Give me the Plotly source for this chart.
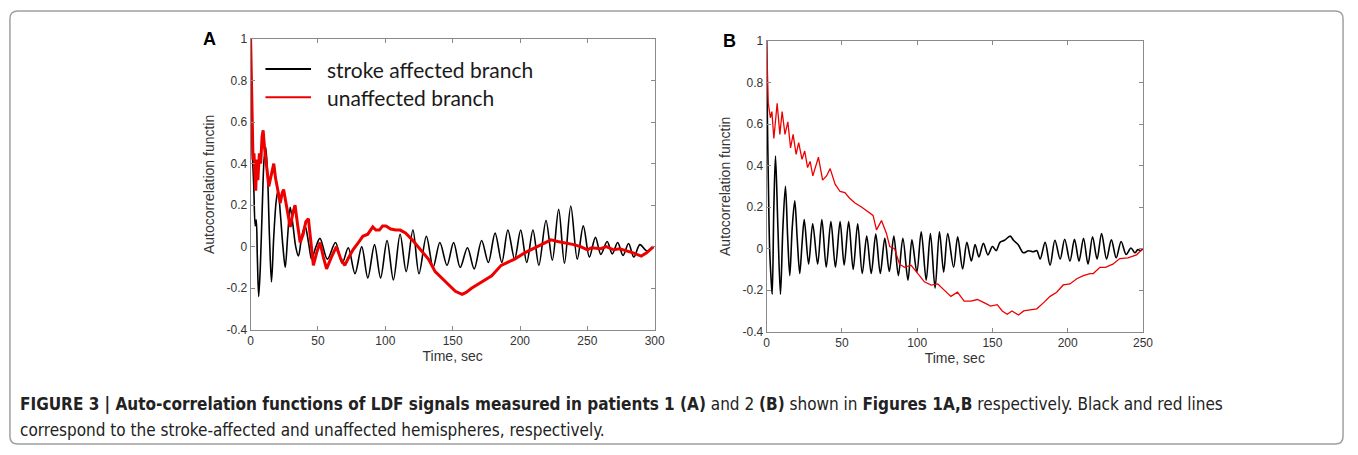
import plotly.graph_objects as go

W, H = 1358, 455

# ---------------- Panel A data ----------------
a_black_t = [0, 0.6, 1.3, 2.3, 3.4, 4.2, 5.0, 6.0, 7.2, 8.7, 10.0, 11.2, 12.5, 14.0, 15.5, 17.2, 19.0, 20.4,
             22.2, 24.0, 25.7, 27.6, 29.4, 31.5, 33.5, 35.5, 38.0, 40.4, 43.0, 45.3, 48.5, 51.5, 57.0, 63.0,
             68.0, 72.5, 77.5, 82.5, 87.0, 92.0, 96.5, 101.3, 106.0, 111.0, 115.5, 120.5, 125.0, 130.5,
             135.5, 140.5, 145.8, 150.7, 155.6, 161.0, 166.0, 171.5, 176.5, 181.5, 186.5, 191.0, 196.0,
             200.5, 205.0, 209.6, 214.0, 219.3, 224.0, 228.7, 233.0, 237.7, 242.5, 247.0, 251.5, 256.0,
             260.0, 264.7, 268.5, 272.5, 276.5, 280.6, 284.5, 289.0, 294.0, 299.0]
a_black_v = [1.0, 0.62, 0.45, 0.30, 0.10, 0.13, -0.05, -0.24, -0.10, 0.20, 0.42, 0.48, 0.36, 0.05, -0.17, 0.05,
             0.22, 0.27, 0.15, 0.0, -0.10, 0.06, 0.19, 0.10, 0.0, -0.045, 0.05, 0.10, 0.02, -0.06, 0.0, 0.04,
             -0.06, 0.02, -0.08, -0.005, -0.13, 0.0, -0.15, 0.01, -0.15, 0.03, -0.16, 0.06, -0.12, 0.08,
             -0.13, 0.05, -0.10, 0.02, -0.09, 0.02, -0.10, -0.005, -0.107, 0.03, -0.076, 0.065, -0.076,
             0.08, -0.06, 0.08, -0.076, 0.08, -0.09, 0.126, -0.065, 0.18, -0.08, 0.196, -0.06, 0.10, -0.05,
             0.045, -0.037, 0.025, -0.035, 0.02, -0.042, 0.015, -0.05, 0.01, -0.02, -0.003]

a_red_t = [0, 0.5, 1.2, 1.8, 2.5, 3.2, 3.8, 4.6, 5.4, 6.5, 7.5, 8.5, 9.3, 10.3, 11.5, 12.5, 13.5, 15.0, 16.3,
           17.2, 18.5, 20.0, 22.0, 23.5, 24.5, 26.0, 27.8, 29.4, 31.3, 33.0, 35.0, 36.8, 39.0, 41.0, 42.9,
           44.8, 46.6, 49.0, 51.5, 54.0, 56.4, 60.0, 63.7, 67.0, 69.9, 73.0, 76.0, 80.0, 83.3, 87.0, 90.7,
           93.0, 95.6, 98.0, 100.5, 104.0, 107.8, 111.0, 115.0, 120.0, 126.0, 132.0, 137.0, 144.6, 152.0,
           157.0, 160.0, 164.0, 171.5, 179.0, 186.0, 196.0, 203.4, 213.0, 223.0, 228.0, 232.8, 236.0,
           240.0, 245.0, 250.0, 253.0, 260.0, 264.0, 269.6, 274.0, 279.4, 284.0, 290.0, 294.0, 299.0]
a_red_v = [1.0, 0.78, 0.55, 0.42, 0.45, 0.30, 0.27, 0.42, 0.32, 0.45, 0.40, 0.53, 0.56, 0.48, 0.42, 0.35,
           0.29, 0.33, 0.38, 0.40, 0.33, 0.27, 0.21, 0.26, 0.275, 0.22, 0.15, 0.095, 0.16, 0.20, 0.10, 0.02,
           0.06, 0.12, 0.135, 0.03, -0.09, -0.03, 0.02, -0.05, -0.107, -0.05, 0.0, -0.06, -0.09, -0.05,
           -0.015, 0.02, 0.05, 0.06, 0.095, 0.08, 0.08, 0.10, 0.10, 0.085, 0.08, 0.08, 0.066, 0.033,
           -0.015, -0.06, -0.12, -0.17, -0.215, -0.23, -0.22, -0.20, -0.17, -0.14, -0.09, -0.06, -0.03,
           0.0, 0.033, 0.025, 0.02, 0.015, 0.01, 0.0, -0.015, -0.005, -0.01, 0.0, -0.015, -0.01, -0.02,
           -0.03, -0.045, -0.03, 0.0]

# ---------------- Panel B data ----------------
b_black_t = [0, 0.5, 1.2, 2.0, 3.0, 3.7, 4.8, 5.9, 7.5, 9.2, 10.8, 12.5, 14.0, 15.4, 17.0, 18.7, 20.3, 22.0,
             23.5, 25.0, 27.9, 30.6, 33.9, 36.7, 39.6, 42.7, 45.7, 48.8, 51.5, 54.5, 57.5, 60.5, 63.5, 66.5,
             69.5, 72.5, 75.5, 78.5, 81.5, 84.5, 87.5, 90.5, 93.9, 96.5, 99.8, 102.7, 106.0, 108.8, 111.9,
             114.8, 117.6, 120.3, 124.2, 126.9, 130.2, 133.0, 136.0, 138.5, 141.0, 144.0, 147.0, 150.0,
             152.5, 155.0, 158.0, 161.8, 164.0, 167.0, 170.6, 174.0, 177.0, 179.5, 181.7, 185.0, 188.3,
             191.5, 195.0, 198.0, 201.5, 204.5, 207.5, 210.5, 213.5, 216.5, 219.5, 222.5, 225.8, 229.0,
             232.2, 235.5, 238.8, 242.0, 244.6, 246.6, 248.3, 250.0]
b_black_v = [1.0, 0.63, 0.30, 0.0, -0.15, -0.22, 0.20, 0.446, 0.10, -0.22, 0.10, 0.30, 0.05, -0.13, 0.10,
             0.23, 0.05, -0.12, 0.02, 0.14, -0.075, 0.12, -0.075, 0.14, -0.09, 0.13, -0.09, 0.13, -0.08,
             0.13, -0.10, 0.12, -0.12, 0.06, -0.12, 0.07, -0.12, 0.05, -0.11, 0.06, -0.13, 0.05, -0.152,
             0.042, -0.113, 0.081, -0.152, 0.073, -0.19, 0.081, -0.113, 0.073, -0.09, 0.057, -0.098, 0.03,
             -0.06, 0.02, -0.04, 0.025, -0.03, 0.01, -0.01, 0.03, 0.04, 0.06, 0.04, 0.02, -0.02, -0.01,
             -0.015, -0.01, -0.05, 0.03, -0.08, 0.04, -0.05, 0.045, -0.06, 0.045, -0.06, 0.05, -0.075,
             0.057, -0.05, 0.073, -0.05, 0.042, -0.044, 0.034, -0.028, 0.003, -0.02, -0.005, -0.01, 0.0]

b_red_t = [0, 0.4, 1.1, 2.5, 3.5, 4.8, 7.0, 8.8, 10.3, 12.2, 14.1, 15.9, 17.6, 19.6, 21.3, 23.5, 25.3, 27.2,
           28.9, 30.7, 32.5, 34.4, 37.2, 39.8, 42.2, 45.5, 48.8, 52.0, 55.0, 58.7, 63.0, 67.5, 70.7, 73.0,
           76.3, 79.6, 81.8, 85.0, 88.3, 91.6, 96.0, 98.2, 100.5, 104.8, 109.3, 113.7, 118.0, 122.4, 126.8,
           131.2, 135.6, 140.0, 144.4, 148.8, 153.2, 156.5, 159.8, 163.0, 167.4, 170.7, 175.0, 179.5,
           184.0, 188.3, 192.7, 197.0, 201.5, 206.0, 210.4, 214.8, 217.0, 221.4, 225.0, 230.0, 234.6,
           240.0, 245.7, 250.0]
b_red_v = [1.0, 0.85, 0.70, 0.63, 0.66, 0.53, 0.70, 0.55, 0.66, 0.55, 0.61, 0.485, 0.55, 0.454, 0.51, 0.43,
           0.47, 0.39, 0.42, 0.35, 0.40, 0.44, 0.33, 0.35, 0.385, 0.31, 0.275, 0.27, 0.244, 0.22, 0.20,
           0.174, 0.16, 0.09, 0.135, 0.073, 0.01, 0.0, -0.075, -0.09, -0.08, -0.10, -0.12, -0.16, -0.176,
           -0.17, -0.20, -0.23, -0.21, -0.253, -0.253, -0.245, -0.26, -0.277, -0.27, -0.30, -0.316, -0.30,
           -0.32, -0.30, -0.295, -0.29, -0.26, -0.23, -0.21, -0.175, -0.17, -0.145, -0.13, -0.12, -0.12,
           -0.09, -0.09, -0.075, -0.048, -0.045, -0.03, 0.0]

y_ticks = [-0.4, -0.2, 0, 0.2, 0.4, 0.6, 0.8, 1]
y_tick_text = ["-0.4", "-0.2", "0", "0.2", "0.4", "0.6", "0.8", "1"]
a_x_ticks = [0, 50, 100, 150, 200, 250, 300]
b_x_ticks = [0, 50, 100, 150, 200, 250]
legend_labels = ["stroke affected branch", "unaffected branch"]
x_title = "Time, sec"
y_title = "Autocorrelation functin"


def px(x):
    return x / W


def py(y):
    return 1 - y / H


fig = go.Figure()
fig.add_trace(go.Scatter(x=a_black_t, y=a_black_v, mode="lines",
                         line=dict(color="#000000", width=1.6, shape="spline", smoothing=0.9),
                         xaxis="x", yaxis="y", showlegend=False))
fig.add_trace(go.Scatter(x=a_red_t, y=a_red_v, mode="lines", line=dict(color="#ee0000", width=3),
                         xaxis="x", yaxis="y", showlegend=False))
fig.add_trace(go.Scatter(x=b_black_t, y=b_black_v, mode="lines",
                         line=dict(color="#000000", width=1.6, shape="spline", smoothing=0.9),
                         xaxis="x2", yaxis="y2", showlegend=False))
fig.add_trace(go.Scatter(x=b_red_t, y=b_red_v, mode="lines", line=dict(color="#ee0000", width=1.3),
                         xaxis="x2", yaxis="y2", showlegend=False))

tick_font = dict(family="Liberation Sans, Arial", size=12, color="#333333")
title_font = dict(family="Liberation Sans, Arial", size=14, color="#333333")
axis_common = dict(showline=True, mirror="ticks", linecolor="#8a8a8a", linewidth=1, ticks="inside", ticklen=4,
                   tickcolor="#8a8a8a", showgrid=False, zeroline=False, tickfont=tick_font)

fig.update_layout(
    width=W, height=H,
    margin=dict(l=0, r=0, t=0, b=0),
    paper_bgcolor="white", plot_bgcolor="white",
    xaxis=dict(domain=[px(250), px(658)], range=[0, 300], tickvals=a_x_ticks, anchor="y",
               title=dict(text=x_title, standoff=3, font=title_font), **axis_common),
    yaxis=dict(domain=[py(333), py(33)], range=[-0.4, 1], tickvals=y_ticks, ticktext=y_tick_text, anchor="x",
               title=dict(text=y_title, standoff=8, font=title_font), **axis_common),
    xaxis2=dict(domain=[px(771), px(1151)], range=[0, 250], tickvals=b_x_ticks, anchor="y2",
                title=dict(text=x_title, standoff=3, font=title_font), **axis_common),
    yaxis2=dict(domain=[py(335), py(35)], range=[-0.4, 1], tickvals=y_ticks, ticktext=y_tick_text, anchor="x2",
                title=dict(text=y_title, standoff=8, font=title_font), **axis_common),
)

# Legend for panel A (drawn manually)
for yy, col, lab in [(64, "#000000", legend_labels[0]), (93, "#ee0000", legend_labels[1])]:
    fig.add_shape(type="line", xref="paper", yref="paper", x0=px(265), x1=px(311), y0=py(yy), y1=py(yy),
                  line=dict(color=col, width=2))
    fig.add_annotation(xref="paper", yref="paper", x=px(325), y=py(yy), xanchor="left", yanchor="middle",
                       text=lab, showarrow=False, font=dict(family="Lato, Open Sans", size=21, color="#1a1a1a"))

# Panel letters
fig.add_annotation(xref="paper", yref="paper", x=px(208), y=py(33), xanchor="center", yanchor="middle",
                   text="<b>A</b>", showarrow=False, font=dict(family="Liberation Sans, Arial", size=18, color="#000"))
fig.add_annotation(xref="paper", yref="paper", x=px(734), y=py(35), xanchor="center", yanchor="middle",
                   text="<b>B</b>", showarrow=False, font=dict(family="Liberation Sans, Arial", size=18, color="#000"))

# Caption
cap1 = ("<b>FIGURE 3 | Auto-correlation functions of LDF signals measured in patients 1 (A)</b> and 2 <b>(B)</b> "
        "shown in <b>Figures 1A,B</b> respectively. Black and red lines")
cap2 = "correspond to the stroke-affected and unaffected hemispheres, respectively."
for yy, txt in [(410, cap1), (436, cap2)]:
    fig.add_annotation(xref="paper", yref="paper", x=px(15), y=py(yy), xanchor="left", yanchor="middle",
                       text=txt, showarrow=False,
                       font=dict(family="Liberation Sans Narrow, DejaVu Sans Condensed, DejaVu Sans", size=17,
                                 color="#222222"))

# Rounded outer frame
x0, x1, y0, y1, r = 7, 1353, 4, 451, 8
path = (f"M {px(x0 + r)},{py(y0)} L {px(x1 - r)},{py(y0)} Q {px(x1)},{py(y0)} {px(x1)},{py(y0 + r)} "
        f"L {px(x1)},{py(y1 - r)} Q {px(x1)},{py(y1)} {px(x1 - r)},{py(y1)} "
        f"L {px(x0 + r)},{py(y1)} Q {px(x0)},{py(y1)} {px(x0)},{py(y1 - r)} "
        f"L {px(x0)},{py(y0 + r)} Q {px(x0)},{py(y0)} {px(x0 + r)},{py(y0)} Z")
fig.add_shape(type="path", xref="paper", yref="paper", path=path, line=dict(color="#a0a0a0", width=1.5))

fig.write_html("out.html", config={"displayModeBar": False},
               post_script="document.body.style.margin='0';document.body.style.overflow='hidden';")
